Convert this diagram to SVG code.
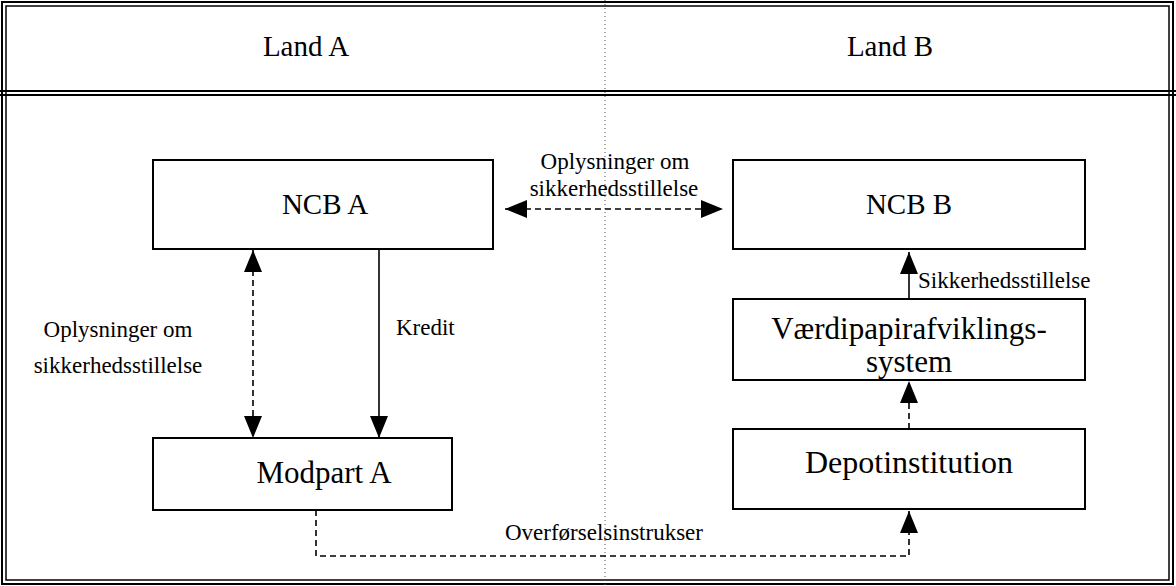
<svg xmlns="http://www.w3.org/2000/svg" width="1176" height="586" viewBox="0 0 1176 586">
<defs>
<style>
.box{fill:#fff;stroke:#000;stroke-width:2}
.frame{fill:none;stroke:#000}
.t{font-family:"Liberation Serif","Times New Roman",serif;fill:#000;text-anchor:middle}
.s{text-anchor:start}
.big{font-size:29px}
.hdr{font-size:29px}
.sm{font-size:23px}
.c{fill:none;stroke:#000;stroke-width:1.6}
.d{stroke-dasharray:6 4}
</style>
<marker id="tri" viewBox="0 0 22 18" refX="22" refY="9" markerWidth="22" markerHeight="18" markerUnits="userSpaceOnUse" orient="auto-start-reverse">
<path d="M0,0 L22,9 L0,18 Z" fill="#000"/>
</marker>
</defs>
<rect width="1176" height="586" fill="#fff"/>
<g id="frame">
<rect class="frame" x="2" y="2" width="1171" height="582" stroke-width="2"/>
<rect class="frame" x="6" y="6" width="1163" height="574" stroke-width="1.5"/>
<line x1="0" y1="91" x2="1176" y2="91" stroke="#000" stroke-width="2"/>
<line x1="0" y1="95" x2="1176" y2="95" stroke="#000" stroke-width="2"/>
<line x1="605" y1="0" x2="605" y2="586" stroke="#555" stroke-width="1" stroke-dasharray="1 3"/>
<text class="t hdr" x="306" y="56">Land A</text>
<text class="t hdr" x="890" y="56">Land B</text>
</g>
<g id="connectors">
<line class="c d" x1="505" y1="209" x2="723" y2="209" marker-start="url(#tri)" marker-end="url(#tri)"/>
<line class="c d" x1="253" y1="250" x2="253" y2="438" marker-start="url(#tri)" marker-end="url(#tri)"/>
<line class="c" x1="379" y1="249" x2="379" y2="438" marker-end="url(#tri)"/>
<line class="c" x1="909" y1="299" x2="909" y2="252" marker-end="url(#tri)"/>
<line class="c d" x1="909" y1="429" x2="909" y2="381" marker-end="url(#tri)"/>
<path class="c d" d="M316,510 L316,556 L909,556 L909,511" marker-end="url(#tri)"/>
<text class="t sm" x="615" y="169">Oplysninger om</text>
<text class="t sm" x="614" y="196">sikkerhedsstillelse</text>
<text class="t sm" x="118" y="337">Oplysninger om</text>
<text class="t sm" x="118" y="373">sikkerhedsstillelse</text>
<text class="t sm s" x="396" y="335">Kredit</text>
<text class="t sm s" x="918" y="288">Sikkerhedsstillelse</text>
<text class="t sm" x="604" y="540">Overførselsinstrukser</text>
</g>
<g id="ncb-a">
<rect class="box" x="153" y="160" width="340" height="89"/>
<text class="t big" x="325" y="214">NCB A</text>
</g>
<g id="ncb-b">
<rect class="box" x="733" y="160" width="352" height="89"/>
<text class="t big" x="909" y="214">NCB B</text>
</g>
<g id="modpart-a">
<rect class="box" x="153" y="438" width="299" height="72"/>
<text class="t big" x="324" y="483" style="font-size:31px">Modpart A</text>
</g>
<g id="vaerdipapir">
<rect class="box" x="733" y="299" width="352" height="81"/>
<text class="t big" x="909" y="339" style="font-size:31px">Værdipapirafviklings-</text>
<text class="t big" x="909" y="372" style="font-size:31px">system</text>
</g>
<g id="depot">
<rect class="box" x="733" y="429" width="352" height="80"/>
<text class="t big" x="909" y="473" style="font-size:32px">Depotinstitution</text>
</g>
</svg>
